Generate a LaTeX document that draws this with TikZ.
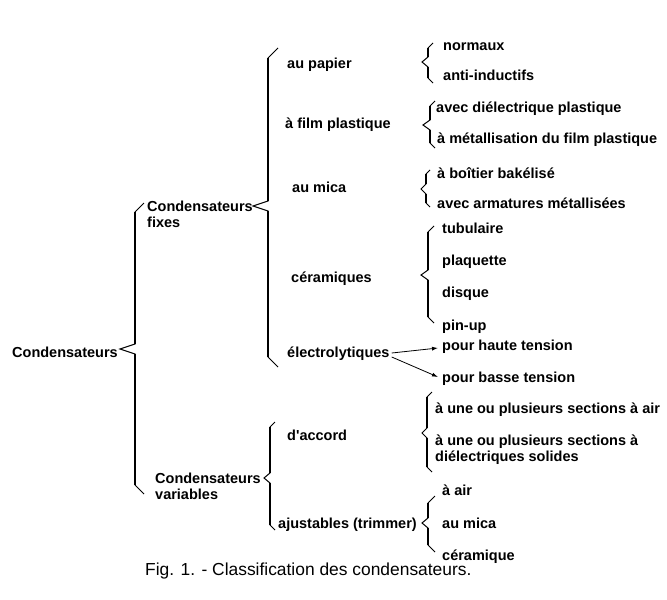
\documentclass[tikz,border=0pt]{standalone}
\usepackage{fontspec}
\setmainfont{Liberation Sans}
\usetikzlibrary{arrows.meta}

% accolade: x, haut, milieu, bas, pointe, crochet
\newcommand{\accol}[6]{%
  \draw[acc] (#1+#6,#2-#6) -- (#1,#2) -- (#1,#3-5) -- (#1-#5,#3) -- (#1,#3+5) -- (#1,#4) -- (#1+#6,#4+#6);
  \draw[accv] (#1,#2) -- (#1,#3-5) (#1,#3+5) -- (#1,#4);
}

\tikzset{
  lbl/.style={anchor=west,inner sep=0pt,text height=10pt,text depth=0pt,
    font=\fontsize{14.5}{16}\selectfont\bfseries},
  lbl2/.style={anchor=north west,inner sep=0pt,align=left,
    font=\fontsize{14.5}{15.5}\selectfont\bfseries},
  acc/.style={line width=1pt},
  accv/.style={line width=2pt},
  fl/.style={line width=0.8pt,-{Latex[length=6pt,width=4pt]}}
}

\begin{document}
\begin{tikzpicture}[x=1pt,y=-1pt]
	\useasboundingbox (0,0) rectangle (667,600);
	% niveau 1
	\node[lbl] (cond) at (12,352) {Condensateurs};
	\accol{135}{212}{349}{485}{15}{9}
	\node[lbl2] (fixes) at (147,201) {Condensateurs\\fixes};
	\node[lbl2] (var) at (155,473) {Condensateurs\\variables};
	% fixes
	\accol{268}{58}{206}{357}{15}{10}
	\node[lbl] (pap) at (287,63) {au papier};
	\node[lbl] (film) at (285,123) {à film plastique};
	\node[lbl] (mica) at (292,187) {au mica};
	\node[lbl] (cer) at (291,277) {céramiques};
	\node[lbl] (elec) at (287,352) {électrolytiques};
	% au papier
	\accol{428}{48}{62}{78}{6}{5}
	\node[lbl] (norm) at (443,45) {normaux};
	\node[lbl] (anti) at (443,75) {anti-inductifs};
	% film plastique
	\accol{430}{106}{125}{143}{7}{5}
	\node[lbl] (diel) at (436,107) {avec diélectrique plastique};
	\node[lbl] (met) at (437,138) {à métallisation du film plastique};
	% mica
	\accol{426}{174}{189}{203}{5}{4}
	\node[lbl] (bak) at (437,173) {à boîtier bakélisé};
	\node[lbl] (arm) at (437,203) {avec armatures métallisées};
	% ceramiques
	\accol{428}{232}{275}{317}{7}{6}
	\node[lbl] (tub) at (442,228) {tubulaire};
	\node[lbl] (plaq) at (442,260) {plaquette};
	\node[lbl] (disq) at (442,292) {disque};
	\node[lbl] (pin) at (442,325) {pin-up};
	% electrolytiques
	\node[lbl] (ht) at (442,345) {pour haute tension};
	\node[lbl] (bt) at (442,377) {pour basse tension};
	\draw[fl] ([xshift=2pt,yshift=-1pt]elec.east) -- ([xshift=-4pt,yshift=-3pt]ht.west);
	\draw[fl] ([xshift=2pt,yshift=-5pt]elec.east) -- ([xshift=-4pt]bt.west);
	% variables
	\accol{270}{427}{478}{525}{6}{5}
	\node[lbl] (acco) at (287,435) {d\textquotesingle accord};
	\node[lbl] (ajus) at (278,523) {ajustables (trimmer)};
	\accol{427}{397}{433}{467}{5}{5}
	\node[lbl] (air) at (435,408) {à une ou plusieurs sections à air};
	\node[lbl2] (sol) at (435,435) {à une ou plusieurs sections à\\diélectriques solides};
	\accol{428}{503}{523}{545}{6}{7}
	\node[lbl] (aair) at (442,490) {à air};
	\node[lbl] (amica) at (442,523) {au mica};
	\node[lbl] (acer) at (442,555) {céramique};
	% legende
	\node[anchor=west,inner sep=0pt,font=\fontsize{17.4}{20}\selectfont] (leg) at (145,571) {Fig. 1. - Classification des condensateurs.};
\end{tikzpicture}
\end{document}
